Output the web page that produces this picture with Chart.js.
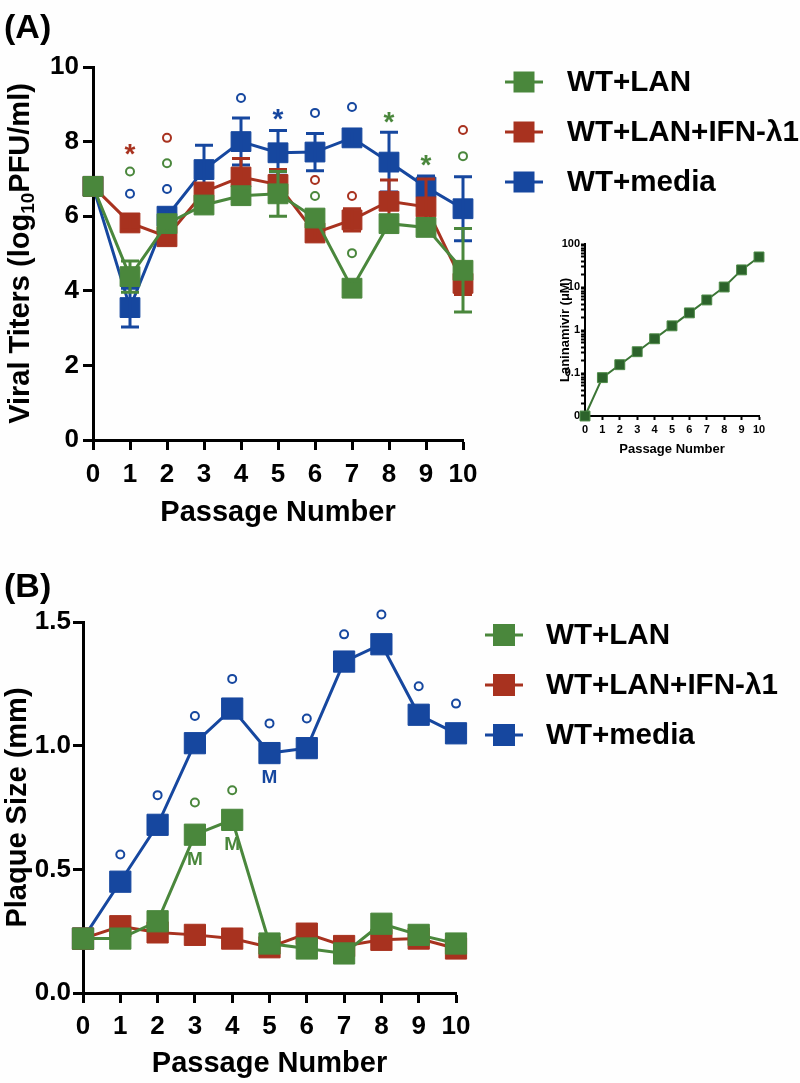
<!DOCTYPE html>
<html>
<head>
<meta charset="utf-8">
<script src="https://cdn.jsdelivr.net/npm/chart.js@4.4.1/dist/chart.umd.min.js"></script>
<style>
  html, body { margin: 0; padding: 0; background: #fefefe; }
  #wrap { position: relative; width: 800px; height: 1083px; overflow: hidden; }
  canvas { position: absolute; }
</style>
</head>
<body>
<div id="wrap">
  <canvas id="chartA" width="800" height="540" style="left:0;top:0;width:800px;height:540px"></canvas>
  <canvas id="chartB" width="800" height="523" style="left:0;top:560px;width:800px;height:523px"></canvas>
  <canvas id="chartInset" width="240" height="240" style="left:540px;top:225px;width:240px;height:240px"></canvas>
</div>
<script>
var passages = [0, 1, 2, 3, 4, 5, 6, 7, 8, 9, 10]
var seriesNames = ['WT+LAN', 'WT+LAN+IFN-λ1', 'WT+media']
var seriesColors = ['#4a873c', '#a8321f', '#16479f']

// (A) viral titers, log10 PFU/ml
var titerLan = [6.8, 4.38, 5.8, 6.3, 6.55, 6.6, 5.95, 4.07, 5.8, 5.7, 4.55]
var titerLanIfn = [6.8, 5.82, 5.45, 6.65, 7.05, 6.85, 5.55, 5.9, 6.4, 6.25, 4.2]
var titerMedia = [6.8, 3.55, 6.0, 7.25, 8.0, 7.7, 7.72, 8.1, 7.45, 6.78, 6.2]
var titerLanErr = [0, 0.42, 0.2, 0.2, 0.2, 0.6, 0.2, 0.2, 0.2, 0.2, 1.12]
var titerLanIfnErr = [0, 0.2, 0.2, 0.2, 0.5, 0.4, 0.2, 0.3, 0.57, 0.75, 0.3]
var titerMediaErr = [0, 0.52, 0.2, 0.65, 0.63, 0.6, 0.5, 0.2, 0.8, 0.3, 0.86]
var titerTicks = [0, 2, 4, 6, 8, 10]

// significance marks: [passage, height, symbol]
var titerMarksLan = [[1, 7.2, 'o'], [2, 7.42, 'o'], [6, 6.54, 'o'], [7, 5.01, 'o'], [8, 8.71, '*'], [9, 7.56, '*'], [10, 7.61, 'o']]
var titerMarksLanIfn = [[1, 7.85, '*'], [2, 8.1, 'o'], [6, 6.97, 'o'], [7, 6.54, 'o'], [10, 8.31, 'o']]
var titerMarksMedia = [[1, 6.6, 'o'], [2, 6.73, 'o'], [4, 9.17, 'o'], [5, 8.8, '*'], [6, 8.77, 'o'], [7, 8.93, 'o']]

// (A) inset: laninamivir dose, uM (passage 0 sits on the axis floor labelled "0")
var lanDose = [0.01, 0.078, 0.156, 0.3125, 0.625, 1.25, 2.5, 5, 10, 25, 50]
var doseDecades = [0.01, 0.1, 1, 10]
var doseTickLabels = { 0.01: '0', 0.1: '0.1', 1: '1', 10: '10', 100: '100' }

// (B) plaque size, mm
var sizeLan = [0.22, 0.22, 0.29, 0.64, 0.70, 0.20, 0.18, 0.16, 0.28, 0.235, 0.20]
var sizeLanIfn = [0.22, 0.27, 0.245, 0.235, 0.22, 0.185, 0.24, 0.19, 0.215, 0.22, 0.18]
var sizeMedia = [0.22, 0.45, 0.68, 1.01, 1.15, 0.97, 0.99, 1.34, 1.41, 1.125, 1.05]
var sizeMarksLan = [[3, 0.77, 'o'], [4, 0.82, 'o'], [3, 0.54, 'M'], [4, 0.60, 'M']]
var sizeMarksMedia = [[1, 0.56, 'o'], [2, 0.80, 'o'], [3, 1.12, 'o'], [4, 1.27, 'o'], [5, 1.09, 'o'], [6, 1.11, 'o'],
  [7, 1.45, 'o'], [8, 1.53, 'o'], [9, 1.24, 'o'], [10, 1.17, 'o'], [5, 0.87, 'M']]

var family = '"Liberation Sans", Arial, Helvetica, sans-serif'
Chart.defaults.font.family = family
Chart.defaults.color = '#000'

function toPoints (values) {
  return passages.map(function (p, i) { return { x: p, y: values[i] } })
}

function makeDataset (i, values, errors, marks, radius) {
  return {
    label: seriesNames[i],
    data: toPoints(values),
    borderColor: seriesColors[i],
    backgroundColor: seriesColors[i],
    pointBackgroundColor: seriesColors[i],
    pointBorderColor: seriesColors[i],
    pointBorderWidth: 1,
    pointStyle: 'rect',
    pointRadius: radius,
    pointHoverRadius: radius,
    borderWidth: 3,
    tension: 0,
    clip: false,
    errors: errors,
    marks: marks
  }
}

function axis (opts) {
  return {
    type: opts.type || 'linear',
    min: opts.min,
    max: opts.max,
    afterFit: opts.fit,
    afterBuildTicks: opts.afterBuildTicks,
    ticks: {
      stepSize: opts.step,
      autoSkip: false,
      maxRotation: 0,
      padding: opts.tickPad,
      color: '#000',
      font: { size: opts.tickSize, weight: 'bold' },
      callback: opts.label
    },
    grid: {
      display: true,
      drawOnChartArea: false,
      drawTicks: true,
      tickLength: opts.tickLen,
      tickWidth: opts.lineW,
      tickColor: '#000'
    },
    border: { display: true, color: '#000', width: opts.lineW },
    title: {
      display: !!opts.title,
      text: opts.title,
      color: '#000',
      font: { size: opts.titleSize, weight: 'bold' },
      padding: opts.titlePad
    }
  }
}

var errorBars = {
  id: 'errorBars',
  afterDatasetDraw: function (chart, args) {
    var ds = chart.data.datasets[args.index]
    if (!ds.errors) return
    var yScale = chart.scales.y
    var ctx = chart.ctx
    ctx.save()
    ctx.strokeStyle = ds.borderColor
    ctx.lineWidth = 3
    args.meta.data.forEach(function (pt, i) {
      var e = ds.errors[i]
      if (!e) return
      var top = yScale.getPixelForValue(ds.data[i].y + e)
      var bot = yScale.getPixelForValue(ds.data[i].y - e)
      ctx.beginPath()
      ctx.moveTo(pt.x, top); ctx.lineTo(pt.x, bot)
      ctx.moveTo(pt.x - 9, top); ctx.lineTo(pt.x + 9, top)
      ctx.moveTo(pt.x - 9, bot); ctx.lineTo(pt.x + 9, bot)
      ctx.stroke()
    })
    ctx.restore()
  }
}

var sigMarks = {
  id: 'sigMarks',
  afterDatasetsDraw: function (chart) {
    var ctx = chart.ctx
    var xs = chart.scales.x
    var ys = chart.scales.y
    ctx.save()
    chart.data.datasets.forEach(function (ds) {
      (ds.marks || []).forEach(function (m) {
        var px = xs.getPixelForValue(m[0])
        var py = ys.getPixelForValue(m[1])
        ctx.fillStyle = ds.borderColor
        ctx.strokeStyle = ds.borderColor
        if (m[2] === 'o') {
          ctx.lineWidth = 2
          ctx.beginPath()
          ctx.arc(px, py, 4, 0, Math.PI * 2)
          ctx.stroke()
        } else if (m[2] === '*') {
          ctx.font = 'bold 28px ' + family
          ctx.textAlign = 'center'
          ctx.textBaseline = 'alphabetic'
          ctx.fillText('*', px, py + 16)
        } else {
          ctx.font = 'bold 19px ' + family
          ctx.textAlign = 'center'
          ctx.textBaseline = 'middle'
          ctx.fillText(m[2], px, py)
        }
      })
    })
    ctx.restore()
  }
}

var sideLegend = {
  id: 'sideLegend',
  afterDraw: function (chart, args, opts) {
    if (!opts.rows) return
    var ctx = chart.ctx
    ctx.save()
    chart.data.datasets.forEach(function (ds, i) {
      var y = opts.rows[i]
      ctx.strokeStyle = ds.borderColor
      ctx.fillStyle = ds.borderColor
      ctx.lineWidth = 3
      ctx.beginPath()
      ctx.moveTo(opts.lineFrom, y)
      ctx.lineTo(opts.lineTo, y)
      ctx.stroke()
      var mid = (opts.lineFrom + opts.lineTo) / 2
      ctx.fillRect(mid - opts.box / 2, y - opts.box / 2, opts.box, opts.box)
      ctx.fillStyle = '#000'
      ctx.font = 'bold 29.6px ' + family
      ctx.textAlign = 'left'
      ctx.textBaseline = 'middle'
      ctx.fillText(ds.label, opts.textX, y + 1)
    })
    ctx.restore()
  }
}

var panelLetter = {
  id: 'panelLetter',
  afterDraw: function (chart, args, opts) {
    if (!opts.text) return
    var ctx = chart.ctx
    ctx.save()
    ctx.fillStyle = '#000'
    ctx.font = 'bold 34px ' + family
    ctx.textAlign = 'left'
    ctx.textBaseline = 'middle'
    ctx.fillText(opts.text, opts.x, opts.y)
    ctx.restore()
  }
}

// y title of (A) needs a subscript, so it is drawn by hand
var titerTitle = {
  id: 'titerTitle',
  afterDraw: function (chart) {
    var ctx = chart.ctx
    var area = chart.chartArea
    var big = 'bold 29px ' + family
    var small = 'bold 19px ' + family
    var parts = [['Viral Titers (log', big, 0], ['10', small, 8], ['PFU/ml)', big, 0]]
    ctx.save()
    var total = 0
    parts.forEach(function (p) { ctx.font = p[1]; p.push(ctx.measureText(p[0]).width); total += p[3] })
    ctx.translate(21, (area.top + area.bottom) / 2)
    ctx.rotate(-Math.PI / 2)
    ctx.fillStyle = '#000'
    ctx.textAlign = 'left'
    ctx.textBaseline = 'middle'
    var x = -total / 2
    parts.forEach(function (p) {
      ctx.font = p[1]
      ctx.fillText(p[0], x, p[2])
      x += p[3]
    })
    ctx.restore()
  }
}

var baseOpts = {
  responsive: false,
  animation: false,
  devicePixelRatio: 1,
  events: []
}

// ---- (A) main ----
new Chart(document.getElementById('chartA'), {
  type: 'line',
  data: {
    datasets: [
      makeDataset(0, titerLan, titerLanErr, titerMarksLan, 14),
      makeDataset(1, titerLanIfn, titerLanIfnErr, titerMarksLanIfn, 14),
      makeDataset(2, titerMedia, titerMediaErr, titerMarksMedia, 14)
    ]
  },
  options: Object.assign({}, baseOpts, {
    layout: { padding: { left: 0, right: 337, top: 67, bottom: 0 } },
    plugins: {
      legend: { display: false },
      tooltip: { enabled: false },
      sideLegend: { rows: [82, 132, 182], lineFrom: 505, lineTo: 543, box: 21, textX: 567 },
      panelLetter: { text: '(A)', x: 4, y: 29 }
    },
    scales: {
      x: axis({ min: 0, max: 10, step: 1, tickPad: 9, tickSize: 26, tickLen: 10, lineW: 3,
        fit: function (s) { s.height = 100 },
        title: 'Passage Number', titleSize: 29, titlePad: { top: 0, bottom: 10 } }),
      y: axis({ min: 0, max: 10, step: 2, tickPad: 4, tickSize: 26, tickLen: 10, lineW: 3,
        fit: function (s) { s.width = 93 },
        afterBuildTicks: function (s) { s.ticks = titerTicks.map(function (v) { return { value: v } }) } })
    }
  }),
  plugins: [errorBars, sigMarks, sideLegend, panelLetter, titerTitle]
})

// ---- (A) inset ----
new Chart(document.getElementById('chartInset'), {
  type: 'line',
  data: {
    datasets: [{
      label: 'Laninamivir',
      data: toPoints(lanDose),
      borderColor: '#3b7535',
      backgroundColor: '#2c632b',
      pointBackgroundColor: '#2c632b',
      pointBorderColor: '#4d8a47',
      pointBorderWidth: 1,
      pointStyle: 'rect',
      pointRadius: 7,
      borderWidth: 2,
      tension: 0,
      clip: false
    }]
  },
  options: Object.assign({}, baseOpts, {
    layout: { padding: { left: 0, right: 21, top: 19, bottom: 0 } },
    plugins: { legend: { display: false }, tooltip: { enabled: false } },
    scales: {
      x: axis({ min: 0, max: 10, step: 1, tickPad: 3, tickSize: 11, tickLen: 4, lineW: 2,
        fit: function (s) { s.height = 49 },
        title: 'Passage Number', titleSize: 13, titlePad: { top: 0, bottom: 8 } }),
      y: axis({ type: 'logarithmic', min: 0.01, max: 100, tickPad: 1, tickSize: 11, tickLen: 4, lineW: 2,
        fit: function (s) { s.width = 45 },
        afterBuildTicks: function (s) {
          var ticks = []
          doseDecades.forEach(function (d) {
            for (var k = 1; k < 10; k++) ticks.push({ value: d * k, major: k === 1 })
          })
          ticks.push({ value: 100, major: true })
          s.ticks = ticks
        },
        label: function (v) {
          var key = Object.keys(doseTickLabels).filter(function (k) { return Math.abs(k - v) < v * 1e-6 })[0]
          return key !== undefined ? doseTickLabels[key] : ''
        },
        title: 'Laninamivir (μM)', titleSize: 13, titlePad: { top: 18, bottom: 0 } })
    }
  })
})

// ---- (B) ----
new Chart(document.getElementById('chartB'), {
  type: 'line',
  data: {
    datasets: [
      makeDataset(0, sizeLan, null, sizeMarksLan, 15),
      makeDataset(1, sizeLanIfn, null, [], 15),
      makeDataset(2, sizeMedia, null, sizeMarksMedia, 15)
    ]
  },
  options: Object.assign({}, baseOpts, {
    layout: { padding: { left: 0, right: 344, top: 62, bottom: 0 } },
    plugins: {
      legend: { display: false },
      tooltip: { enabled: false },
      sideLegend: { rows: [75, 125, 175], lineFrom: 485, lineTo: 523, box: 22, textX: 546 },
      panelLetter: { text: '(B)', x: 4, y: 28 }
    },
    scales: {
      x: axis({ min: 0, max: 10, step: 1, tickPad: 8, tickSize: 26, tickLen: 10, lineW: 3,
        fit: function (s) { s.height = 90 },
        title: 'Passage Number', titleSize: 29, titlePad: { top: 0, bottom: 2 } }),
      y: axis({ min: 0, max: 1.5, step: 0.5, tickPad: 2, tickSize: 26, tickLen: 10, lineW: 3,
        fit: function (s) { s.width = 83 },
        label: function (v) { return v.toFixed(1) },
        title: 'Plaque Size (mm)', titleSize: 29, titlePad: { top: 1, bottom: 0 } })
    }
  }),
  plugins: [sigMarks, sideLegend, panelLetter]
})
</script>
</body>
</html>
